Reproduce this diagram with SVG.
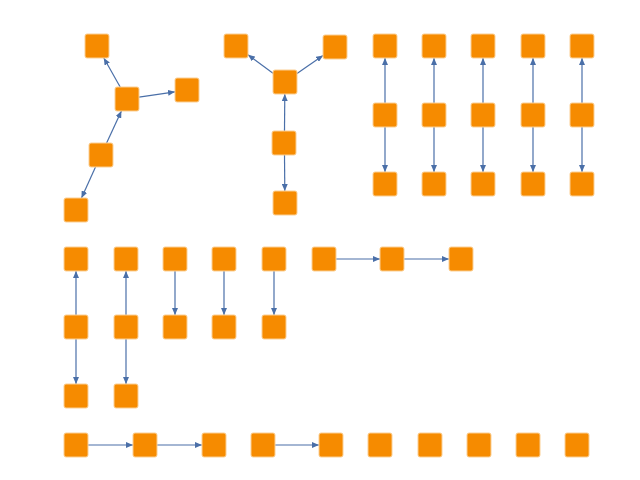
<svg xmlns="http://www.w3.org/2000/svg" width="640" height="480" viewBox="0 0 640 480">
<defs>
<style>
.n{fill:#f68b00;stroke:#fbcf94;stroke-width:1}
.e{stroke:#4a6fa8;stroke-width:1.2;fill:none;marker-end:url(#ah)}
</style>
<marker id="ah" markerUnits="userSpaceOnUse" markerWidth="8" markerHeight="6" refX="7" refY="3" orient="auto">
<path d="M0,0 L7,3 L0,6 z" fill="#4a6fa8"/>
</marker>
</defs>
<rect width="640" height="480" fill="#fff"/>
<g id="connectors">
<line class="e" x1="120.2" y1="87" x2="103.8" y2="58"/>
<line class="e" x1="139" y1="97.2" x2="175" y2="91.8"/>
<line class="e" x1="106.6" y1="143" x2="121.4" y2="111"/>
<line class="e" x1="95.5" y1="167" x2="81.5" y2="198"/>
<line class="e" x1="273" y1="73.2" x2="248" y2="54.8"/>
<line class="e" x1="297" y1="73.6" x2="323" y2="55.4"/>
<line class="e" x1="284.5" y1="131" x2="284.8" y2="94"/>
<line class="e" x1="284.5" y1="155" x2="284.8" y2="191"/>
<line class="e" x1="385" y1="103" x2="385" y2="58"/>
<line class="e" x1="385" y1="127" x2="385" y2="172"/>
<line class="e" x1="434" y1="103" x2="434" y2="58"/>
<line class="e" x1="434" y1="127" x2="434" y2="172"/>
<line class="e" x1="483" y1="103" x2="483" y2="58"/>
<line class="e" x1="483" y1="127" x2="483" y2="172"/>
<line class="e" x1="533" y1="103" x2="533" y2="58"/>
<line class="e" x1="533" y1="127" x2="533" y2="172"/>
<line class="e" x1="582" y1="103" x2="582" y2="58"/>
<line class="e" x1="582" y1="127" x2="582" y2="172"/>
<line class="e" x1="76" y1="315" x2="76" y2="271"/>
<line class="e" x1="76" y1="339" x2="76" y2="384"/>
<line class="e" x1="126" y1="315" x2="126" y2="271"/>
<line class="e" x1="126" y1="339" x2="126" y2="384"/>
<line class="e" x1="175" y1="271" x2="175" y2="315"/>
<line class="e" x1="224" y1="271" x2="224" y2="315"/>
<line class="e" x1="274" y1="271" x2="274" y2="315"/>
<line class="e" x1="336" y1="259" x2="380" y2="259"/>
<line class="e" x1="404" y1="259" x2="449" y2="259"/>
<line class="e" x1="88" y1="445" x2="133" y2="445"/>
<line class="e" x1="157" y1="445" x2="202" y2="445"/>
<line class="e" x1="275" y1="445" x2="319" y2="445"/>
</g>
<g id="n1"><rect class="n" x="85" y="34" width="24" height="24" rx="2"/></g>
<g id="n2"><rect class="n" x="115" y="87" width="24" height="24" rx="2"/></g>
<g id="n3"><rect class="n" x="175" y="78" width="24" height="24" rx="2"/></g>
<g id="n4"><rect class="n" x="89" y="143" width="24" height="24" rx="2"/></g>
<g id="n5"><rect class="n" x="64" y="198" width="24" height="24" rx="2"/></g>
<g id="n6"><rect class="n" x="224" y="34" width="24" height="24" rx="2"/></g>
<g id="n7"><rect class="n" x="323" y="35" width="24" height="24" rx="2"/></g>
<g id="n8"><rect class="n" x="273" y="70" width="24" height="24" rx="2"/></g>
<g id="n9"><rect class="n" x="272" y="131" width="24" height="24" rx="2"/></g>
<g id="n10"><rect class="n" x="273" y="191" width="24" height="24" rx="2"/></g>
<g id="n11"><rect class="n" x="373" y="34" width="24" height="24" rx="2"/></g>
<g id="n12"><rect class="n" x="373" y="103" width="24" height="24" rx="2"/></g>
<g id="n13"><rect class="n" x="373" y="172" width="24" height="24" rx="2"/></g>
<g id="n14"><rect class="n" x="422" y="34" width="24" height="24" rx="2"/></g>
<g id="n15"><rect class="n" x="422" y="103" width="24" height="24" rx="2"/></g>
<g id="n16"><rect class="n" x="422" y="172" width="24" height="24" rx="2"/></g>
<g id="n17"><rect class="n" x="471" y="34" width="24" height="24" rx="2"/></g>
<g id="n18"><rect class="n" x="471" y="103" width="24" height="24" rx="2"/></g>
<g id="n19"><rect class="n" x="471" y="172" width="24" height="24" rx="2"/></g>
<g id="n20"><rect class="n" x="521" y="34" width="24" height="24" rx="2"/></g>
<g id="n21"><rect class="n" x="521" y="103" width="24" height="24" rx="2"/></g>
<g id="n22"><rect class="n" x="521" y="172" width="24" height="24" rx="2"/></g>
<g id="n23"><rect class="n" x="570" y="34" width="24" height="24" rx="2"/></g>
<g id="n24"><rect class="n" x="570" y="103" width="24" height="24" rx="2"/></g>
<g id="n25"><rect class="n" x="570" y="172" width="24" height="24" rx="2"/></g>
<g id="n26"><rect class="n" x="64" y="247" width="24" height="24" rx="2"/></g>
<g id="n27"><rect class="n" x="64" y="315" width="24" height="24" rx="2"/></g>
<g id="n28"><rect class="n" x="64" y="384" width="24" height="24" rx="2"/></g>
<g id="n29"><rect class="n" x="114" y="247" width="24" height="24" rx="2"/></g>
<g id="n30"><rect class="n" x="114" y="315" width="24" height="24" rx="2"/></g>
<g id="n31"><rect class="n" x="114" y="384" width="24" height="24" rx="2"/></g>
<g id="n32"><rect class="n" x="163" y="247" width="24" height="24" rx="2"/></g>
<g id="n33"><rect class="n" x="163" y="315" width="24" height="24" rx="2"/></g>
<g id="n34"><rect class="n" x="212" y="247" width="24" height="24" rx="2"/></g>
<g id="n35"><rect class="n" x="212" y="315" width="24" height="24" rx="2"/></g>
<g id="n36"><rect class="n" x="262" y="247" width="24" height="24" rx="2"/></g>
<g id="n37"><rect class="n" x="262" y="315" width="24" height="24" rx="2"/></g>
<g id="n38"><rect class="n" x="312" y="247" width="24" height="24" rx="2"/></g>
<g id="n39"><rect class="n" x="380" y="247" width="24" height="24" rx="2"/></g>
<g id="n40"><rect class="n" x="449" y="247" width="24" height="24" rx="2"/></g>
<g id="n41"><rect class="n" x="64" y="433" width="24" height="24" rx="2"/></g>
<g id="n42"><rect class="n" x="133" y="433" width="24" height="24" rx="2"/></g>
<g id="n43"><rect class="n" x="202" y="433" width="24" height="24" rx="2"/></g>
<g id="n44"><rect class="n" x="251" y="433" width="24" height="24" rx="2"/></g>
<g id="n45"><rect class="n" x="319" y="433" width="24" height="24" rx="2"/></g>
<g id="n46"><rect class="n" x="368" y="433" width="24" height="24" rx="2"/></g>
<g id="n47"><rect class="n" x="418" y="433" width="24" height="24" rx="2"/></g>
<g id="n48"><rect class="n" x="467" y="433" width="24" height="24" rx="2"/></g>
<g id="n49"><rect class="n" x="516" y="433" width="24" height="24" rx="2"/></g>
<g id="n50"><rect class="n" x="565" y="433" width="24" height="24" rx="2"/></g>
</svg>
